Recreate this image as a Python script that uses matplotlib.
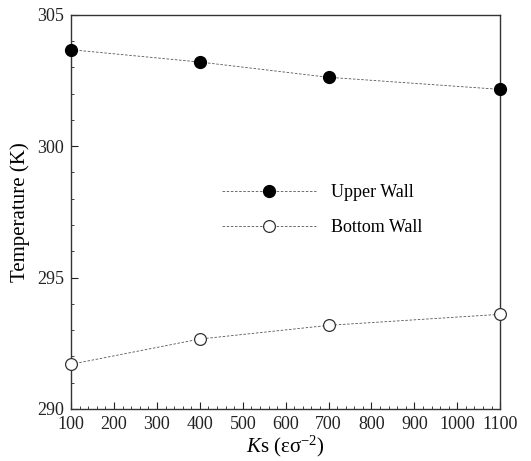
import matplotlib
matplotlib.use("Agg")
import matplotlib.pyplot as plt
from matplotlib.ticker import MultipleLocator

plt.rcParams['font.family'] = ['Liberation Serif', 'DejaVu Serif']
plt.rcParams['mathtext.fontset'] = 'custom'
plt.rcParams['mathtext.rm'] = 'Liberation Serif'
plt.rcParams['mathtext.it'] = 'Liberation Serif:italic'

# --- data ---
ks = [100, 400, 700, 1100]
upper_wall = [303.67, 303.2, 302.62, 302.16]
bottom_wall = [291.70, 292.66, 293.18, 293.60]

fig = plt.figure(figsize=(5.31, 4.61), dpi=100)
ax = fig.add_axes([0.134, 0.113, 0.808, 0.855])

ax.plot(ks, upper_wall, color='#555555', linestyle=(0, (3, 2)), linewidth=0.6,
        marker='o', markersize=8.5, markerfacecolor='black', markeredgecolor='black',
        label='Upper Wall', clip_on=False, zorder=3)
ax.plot(ks, bottom_wall, color='#555555', linestyle=(0, (3, 2)), linewidth=0.6,
        marker='o', markersize=8.5, markerfacecolor='white', markeredgecolor='#333333',
        markeredgewidth=0.9, label='Bottom Wall', clip_on=False, zorder=3)

ax.set_xlim(100, 1100)
ax.set_ylim(290, 305)
ax.xaxis.set_major_locator(MultipleLocator(100))
ax.xaxis.set_minor_locator(MultipleLocator(20))
ax.yaxis.set_major_locator(MultipleLocator(5))
ax.yaxis.set_minor_locator(MultipleLocator(1))
ax.tick_params(which='both', direction='in', top=False, right=False, labelsize=13,
               colors='#222222')
ax.tick_params(axis='x', pad=5)
ax.tick_params(axis='y', pad=5)
ax.tick_params(which='major', length=5)
ax.tick_params(which='minor', length=2.5)

for s in ax.spines.values():
    s.set_linewidth(1.0)
    s.set_color('#333333')

ax.set_xlabel('$\\mathit{K}$s (εσ$^{-2}$)', fontsize=15, labelpad=1)
ax.set_ylabel('Temperature (K)', fontsize=15, labelpad=5)

ax.legend(loc='center', bbox_to_anchor=(0.585, 0.505), frameon=False, fontsize=13,
          handlelength=5.2, handletextpad=0.8, labelspacing=1.0)

fig.savefig('out.png', dpi=100)
